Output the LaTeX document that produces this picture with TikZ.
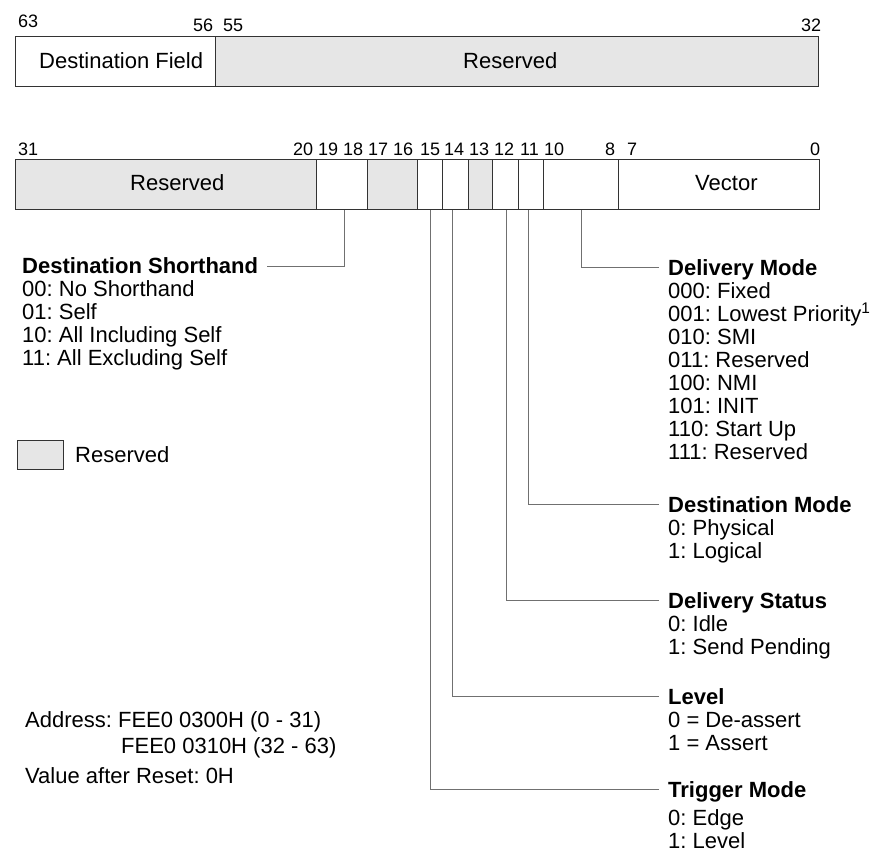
\documentclass[tikz,border=0pt]{standalone}
\usepackage{fontspec}
\setmainfont{Liberation Sans}
\definecolor{resgray}{HTML}{E6E6E6}
\definecolor{boxline}{HTML}{333333}
\definecolor{linegray}{HTML}{707070}
\begin{document}
\frenchspacing
\begin{tikzpicture}[x=1pt,y=-1pt,
  field/.style={draw=boxline, line width=1pt, inner sep=0pt, anchor=north west, minimum height=50pt},
  res/.style={field, fill=resgray},
  bitnum/.style={anchor=base west, inner sep=0pt, font=\fontsize{18}{20}\selectfont},
  lab/.style={anchor=base west, inner sep=0pt, font=\frenchspacing\fontsize{22}{23}\selectfont},
  head/.style={anchor=base west, inner sep=0pt, font=\frenchspacing\bfseries\fontsize{22}{23}\selectfont},
  body/.style={anchor=base west, inner sep=0pt, font=\frenchspacing\fontsize{22}{23}\selectfont},
  conn/.style={draw=linegray, line width=1pt}]
\useasboundingbox (0,0) rectangle (878,867);

% ---- upper register (bits 63-32)
\node[field, minimum width=200pt] (fdest) at (15,36) {};
\node[res, minimum width=603pt] (fres63) at (215,36) {};
\node[lab] (tdest) at (39,68) {Destination Field};
\node[lab] (tres63) at (463,69) {Reserved};
\node[bitnum] (n63) at (18,28) {63};
\node[bitnum] (n56) at (193,32) {56};
\node[bitnum] (n55) at (223,32) {55};
\node[bitnum] (n32) at (801,32) {32};

% ---- lower register (bits 31-0)
\node[res, minimum width=301pt] (fres31) at (15,159) {};
\node[field, minimum width=51pt] (f1918) at (316,159) {};
\node[res, minimum width=50pt] (f1716) at (367,159) {};
\node[field, minimum width=25pt] (f15) at (417,159) {};
\node[field, minimum width=26pt] (f14) at (442,159) {};
\node[res, minimum width=24pt] (f13) at (468,159) {};
\node[field, minimum width=26pt] (f12) at (492,159) {};
\node[field, minimum width=25pt] (f11) at (518,159) {};
\node[field, minimum width=75pt] (f108) at (543,159) {};
\node[field, minimum width=201pt] (f70) at (618,159) {};
\node[lab] (tres31) at (130,190) {Reserved};
\node[lab] (tvec) at (695,190) {Vector};

\node[bitnum] (n31) at (18,155) {31};
\node[bitnum] (n20) at (293,155) {20};
\node[bitnum] (n19) at (318,155) {19};
\node[bitnum] (n18) at (343,155) {18};
\node[bitnum] (n17) at (368,155) {17};
\node[bitnum] (n16) at (393,155) {16};
\node[bitnum] (n15) at (420,155) {15};
\node[bitnum] (n14) at (444,155) {14};
\node[bitnum] (n13) at (469,155) {13};
\node[bitnum] (n12) at (494,155) {12};
\node[bitnum] (n11) at (520,155) {11};
\node[bitnum] (n10) at (544,155) {10};
\node[bitnum] (n8) at (605,155) {8};
\node[bitnum] (n7) at (627,155) {7};
\node[bitnum] (n0) at (810,155) {0};

% ---- Destination Shorthand
\node[head] (hds) at (22,273) {Destination Shorthand};
\foreach \t [count=\i] in {00: No Shorthand, 01: Self, 10: All Including Self, 11: All Excluding Self}
  \node[body] (ds\i) at (22,273+23*\i) {\t};
\draw[conn] ([xshift=9pt,yshift=7pt]hds.base east) -| ([xshift=2.5pt]f1918.south);

% ---- Delivery Mode
\node[head] (hdm) at (668,275) {Delivery Mode};
\foreach \t [count=\i] in {000: Fixed, 001: Lowest Priority\textsuperscript{1}, 010: SMI, 011: Reserved, 100: NMI, 101: INIT, 110: Start Up, 111: Reserved}
  \node[body] (dm\i) at (668,275+23*\i) {\t};
\draw[conn] ([xshift=-9pt,yshift=8pt]hdm.base west) -| (f108.south);

% ---- Destination Mode
\node[head] (hdst) at (668,512) {Destination Mode};
\foreach \t [count=\i] in {0: Physical, 1: Logical}
  \node[body] (dst\i) at (668,512+23*\i) {\t};
\draw[conn] ([xshift=-9pt,yshift=8pt]hdst.base west) -| ([xshift=-2.5pt]f11.south);

% ---- Delivery Status
\node[head] (hdls) at (668,608) {Delivery Status};
\foreach \t [count=\i] in {0: Idle, 1: Send Pending}
  \node[body] (dls\i) at (668,608+23*\i) {\t};
\draw[conn] ([xshift=-9pt,yshift=8pt]hdls.base west) -| ([xshift=1pt]f12.south);

% ---- Level
\node[head] (hlev) at (668,704) {Level};
\foreach \t [count=\i] in {0 = De-assert, 1 = Assert}
  \node[body] (lev\i) at (668,704+23*\i) {\t};
\draw[conn] ([xshift=-9pt,yshift=8pt]hlev.base west) -| ([xshift=-3pt]f14.south);

% ---- Trigger Mode
\node[head] (htm) at (668,797) {Trigger Mode};
\node[body] (tm1) at (668,825) {0: Edge};
\node[body] (tm2) at (668,848) {1: Level};
\draw[conn] ([xshift=-9pt,yshift=8pt]htm.base west) -| (f15.south);

% ---- legend
\node[res, minimum width=46pt, minimum height=29pt] (legbox) at (17,440) {};
\node[lab] (legtxt) at (75,462) {Reserved};

% ---- address
\node[lab] (addr1) at (25,727) {Address: FEE0 0300H (0 - 31)};
\node[lab] (addr2) at (121,753) {FEE0 0310H (32 - 63)};
\node[lab] (reset) at (25,783) {Value after Reset: 0H};
\end{tikzpicture}
\end{document}
